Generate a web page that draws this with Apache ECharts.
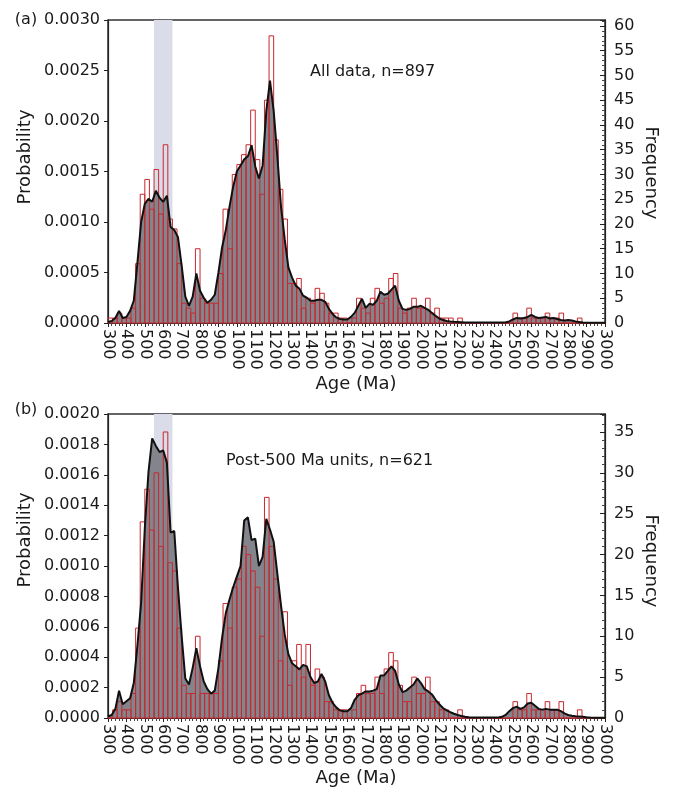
<!DOCTYPE html>
<html><head><meta charset="utf-8">
<script src="https://cdn.jsdelivr.net/npm/echarts/dist/echarts.min.js"></script>
<style>html,body{margin:0;padding:0;background:#fff}#c{width:674px;height:799px}</style>
</head><body><div id="c"></div>
<script>
// ---- data ----
const BIN_WIDTH = 25;              // histogram bin width (Ma)
const histAges = [];               // left edges of bins, 300..2975 Ma
for (let a = 300; a < 3000; a += BIN_WIDTH) histAges.push(a);
const densAges = [];               // ages of the probability curve, 300..3000 Ma
for (let a = 300; a <= 3000; a += 20) densAges.push(a);

// (a) All data, n=897 — probability (x1e-4)
const densA = [
 0.1,0.2,0.5,1.2,0.5,0.6,1.2,2.2,6.0,10.0,
 11.8,12.3,12.0,13.1,12.4,12.0,12.6,9.5,9.2,8.5,
 5.7,2.6,1.7,2.6,4.9,3.2,2.5,2.0,2.3,2.8,
 5.0,7.5,9.2,11.5,13.5,15.0,15.6,16.2,16.5,17.6,
 15.5,14.3,15.6,21.0,24.0,21.0,16.5,11.5,8.3,5.5,
 4.5,3.7,3.4,2.7,2.5,2.2,2.2,2.3,2.3,2.1,
 1.4,0.9,0.55,0.4,0.35,0.35,0.6,1.0,1.7,2.4,
 1.5,1.9,1.8,2.2,3.1,2.8,2.9,3.3,3.7,2.2,
 1.4,1.3,1.4,1.6,1.6,1.7,1.5,1.3,1.0,0.7,
 0.45,0.3,0.2,0.15,0.12,0.1,0.08,0.05,0.05,0.05,
 0.05,0.05,0.05,0.05,0.05,0.05,0.05,0.05,0.08,0.15,
 0.35,0.5,0.45,0.5,0.6,0.8,0.6,0.5,0.55,0.6,
 0.45,0.5,0.4,0.3,0.25,0.3,0.25,0.15,0.1,0.05,
 0.03,0.02,0.02,0.02,0.02,0.02
];
// (a) frequency per bin
const histA = [
 1,1,2,1,1,3,12,26,29,23,
 31,22,36,21,19,12,4,3,2,15,
 5,4,4,4,10,23,15,30,32,34,
 36,43,33,26,45,58,37,27,21,8,
 8,9,3,5,4,7,6,4,2,2,
 1,1,0,1,5,3,2,5,7,4,
 5,9,10,3,2,3,5,3,3,5,
 2,3,1,1,1,0,1,0,0,0,
 0,0,0,0,0,0,0,0,2,1,
 1,3,1,1,1,2,1,1,2,0,
 0,0,1,0,0,0,0,0
];
// (b) Post-500 Ma units, n=621 — probability (x1e-4)
const densB = [
 0.1,0.2,0.6,1.8,0.9,1.1,1.3,2.3,4.8,7.6,
 12.5,16.2,18.4,17.9,17.5,17.6,16.8,12.2,12.3,8.6,
 5.4,2.6,2.2,3.3,4.6,3.4,2.4,1.9,1.6,1.8,
 3.3,5.3,6.9,7.8,8.6,9.3,10.0,13.0,13.2,11.7,
 11.8,10.0,10.6,13.1,12.4,11.6,9.5,7.4,5.5,4.2,
 3.6,3.4,3.2,3.5,3.4,2.7,2.3,2.4,2.9,2.4,
 1.5,1.0,0.7,0.5,0.44,0.44,0.65,1.2,1.5,1.6,
 1.75,1.75,1.8,1.9,2.8,2.8,3.1,3.4,3.1,2.2,
 1.7,1.8,2.0,2.2,2.6,2.3,1.9,1.75,1.55,1.2,
 0.9,0.66,0.5,0.38,0.28,0.2,0.13,0.08,0.05,0.04,
 0.04,0.04,0.04,0.04,0.04,0.04,0.04,0.08,0.2,0.45,
 0.65,0.75,0.6,0.7,0.95,1.0,0.8,0.6,0.55,0.6,
 0.55,0.55,0.55,0.45,0.3,0.2,0.15,0.12,0.1,0.08,
 0.05,0.03,0.02,0.02,0.02,0.02
];
// (b) frequency per bin
const histB = [
 0,1,2,1,1,3,11,24,28,23,
 30,21,35,19,18,11,4,3,3,10,
 3,3,3,3,7,14,11,16,17,21,
 20,18,16,10,27,21,17,7,13,4,
 7,9,5,9,4,6,5,2,2,1,
 1,1,0,1,3,4,3,3,5,3,
 6,8,7,4,2,2,5,3,3,5,
 2,2,1,1,0,0,1,0,0,0,
 0,0,0,0,0,0,0,0,2,1,
 1,3,1,1,1,2,1,1,2,0,
 0,0,1,0,0,0,0,0
];
const shadedBand = [550, 650];     // Ma
const probMax = [30, 20];          // x1e-4
const probStep = [5, 2];
const freqMax = [61.2, 37.2];
const freqStep = 5;
const notes = ['All data, n=897', 'Post-500 Ma units, n=621'];
const panelTags = ['(a)', '(b)'];

// ---- chart ----
const FONT = 'DejaVu Sans';
const TXT = '#1a1a1a';
const grids = [
  {left:108, top:20, width:497, height:303},
  {left:108, top:414, width:497, height:304}
];

const xAxis = [], yAxis = [], series = [];
[0,1].forEach(i => {
  const dens = i === 0 ? densA : densB;
  const hist = i === 0 ? histA : histB;
  xAxis.push({
    type:'value', gridIndex:i, min:300, max:3000, interval:100,
    axisLine:{show:true, onZero:false, lineStyle:{color:'#222', width:1.2}},
    axisTick:{show:true, length:4, lineStyle:{color:'#222'}},
    minorTick:{show:true, splitNumber:5, length:3, lineStyle:{color:'#444'}},
    splitLine:{show:false}, minorSplitLine:{show:false},
    axisLabel:{rotate:-90, margin:6, fontSize:16, fontFamily:FONT, color:TXT,
      formatter: v => String(v)}
  });
  yAxis.push({
    type:'value', gridIndex:i, position:'left', min:0, max:probMax[i], interval:probStep[i],
    axisLine:{show:true, lineStyle:{color:'#222', width:1.2}},
    axisTick:{show:true, length:4, lineStyle:{color:'#222'}},
    splitLine:{show:false},
    axisLabel:{margin:8, fontSize:16, fontFamily:FONT, color:TXT,
      formatter: v => (v/10000).toFixed(4)}
  });
  yAxis.push({
    type:'value', gridIndex:i, position:'right', min:0, max:freqMax[i], interval:freqStep,
    axisLine:{show:true, lineStyle:{color:'#222', width:1.2}},
    axisTick:{show:true, inside:true, length:5, lineStyle:{color:'#222'}},
    minorTick:{show:true, splitNumber:5, length:3, lineStyle:{color:'#444'}},
    splitLine:{show:false}, minorSplitLine:{show:false},
    axisLabel:{margin:9, fontSize:16, fontFamily:FONT, color:TXT,
      formatter: v => (Math.abs(v % 5) < 1e-9 ? String(v) : '')}
  });
  const densData = densAges.map((a,k) => [a, dens[k]]);
  series.push({
    type:'line', xAxisIndex:i, yAxisIndex:2*i, data:densData, symbol:'none',
    lineStyle:{width:0}, areaStyle:{color:'#84848c', opacity:1}, z:3, silent:true,
    markArea:{silent:true, z:1, itemStyle:{color:'#dadde9'},
      data:[[{xAxis:shadedBand[0]},{xAxis:shadedBand[1]}]]}
  });
  series.push({
    type:'custom', xAxisIndex:i, yAxisIndex:2*i+1, z:4, silent:true,
    data: histAges.map((a,k) => [a, a + BIN_WIDTH, hist[k]]),
    encode:{x:[0,1], y:2},
    renderItem: (params, api) => {
      const p0 = api.coord([api.value(0), 0]);
      const p1 = api.coord([api.value(1), api.value(2)]);
      return {type:'rect',
        shape:{x:p0[0], y:p1[1], width:p1[0]-p0[0], height:p0[1]-p1[1]},
        style:{fill:'none', stroke:'#c8282e', lineWidth:1}};
    }
  });
  series.push({
    type:'line', xAxisIndex:i, yAxisIndex:2*i, data:densData, symbol:'none',
    lineStyle:{color:'#111', width:2}, z:5, silent:true
  });
});

const textStyle = (t, s) => ({text:t, fontSize:s||16, fontFamily:FONT, fill:TXT});
const graphic = [
  {type:'text', x:26, y:20, style:Object.assign(textStyle(panelTags[0]), {align:'center', verticalAlign:'middle'})},
  {type:'text', x:26, y:410, style:Object.assign(textStyle(panelTags[1]), {align:'center', verticalAlign:'middle'})},
  {type:'text', x:310, y:72, style:Object.assign(textStyle(notes[0]), {align:'left', verticalAlign:'middle'})},
  {type:'text', x:226, y:461, style:Object.assign(textStyle(notes[1]), {align:'left', verticalAlign:'middle'})},
  {type:'text', x:25, y:157, rotation:Math.PI/2, style:Object.assign(textStyle('Probability', 18), {align:'center', verticalAlign:'middle'})},
  {type:'text', x:25, y:540, rotation:Math.PI/2, style:Object.assign(textStyle('Probability', 18), {align:'center', verticalAlign:'middle'})},
  {type:'text', x:651, y:173, rotation:-Math.PI/2, style:Object.assign(textStyle('Frequency', 18), {align:'center', verticalAlign:'middle'})},
  {type:'text', x:651, y:561, rotation:-Math.PI/2, style:Object.assign(textStyle('Frequency', 18), {align:'center', verticalAlign:'middle'})},
  {type:'text', x:356, y:384, style:Object.assign(textStyle('Age (Ma)', 18), {align:'center', verticalAlign:'middle'})},
  {type:'text', x:356, y:778, style:Object.assign(textStyle('Age (Ma)', 18), {align:'center', verticalAlign:'middle'})}
];

const chart = echarts.init(document.getElementById('c'), null, {renderer:'canvas'});
chart.setOption({
  animation:false,
  backgroundColor:'#fff',
  grid: grids.map(g => Object.assign({show:true, borderColor:'#333', borderWidth:1.5, backgroundColor:'transparent'}, g)),
  xAxis, yAxis, series, graphic
});
</script></body></html>
